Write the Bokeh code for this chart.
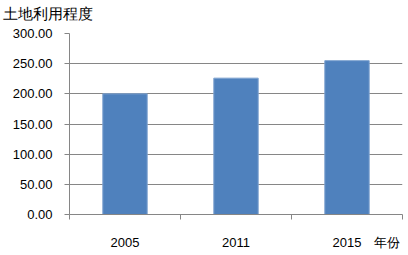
from bokeh.plotting import figure
from bokeh.models import FixedTicker, Range1d, ColumnDataSource, Title
from bokeh.embed import file_html
from bokeh.resources import INLINE

years = ["2005", "2011", "2015"]
values = [200.0, 226.0, 255.0]
y_ticks = [0, 50, 100, 150, 200, 250, 300]
y_title = "土地利用程度"
x_title = "年份"

xs = [i + 0.5 for i in range(len(years))]
src = ColumnDataSource(dict(x=xs, top=values))

FONT = "Liberation Sans"
GRAY = "#868686"

p = figure(width=408, height=255, output_backend="svg", toolbar_location=None,
           x_range=Range1d(0, len(years)), y_range=Range1d(0, 300),
           min_border_left=69, min_border_right=6, min_border_top=33, min_border_bottom=41)
p.outline_line_color = None
p.background_fill_color = "white"
p.border_fill_color = "white"

p.vbar(x="x", top="top", width=0.4, source=src, fill_color="#4F81BD",
       line_color="#7FA3D0", line_width=1)

# spacer between title and frame
p.add_layout(Title(text=" ", text_font_size="8px", standoff=0), "above")

# title (y-axis title at top-left)
p.title.text = y_title
p.title.text_font = FONT
p.title.text_font_size = "15px"
p.title.text_font_style = "normal"
p.title.text_color = "#000000"
p.title.align = "left"
p.title.offset = -67
p.title.standoff = 2

# x axis: labels at centers, plus x title as extra label
lab_pos = xs + [2.86]
overrides = {x: y for x, y in zip(xs, years)}
overrides[2.86] = x_title
p.xaxis.ticker = FixedTicker(ticks=lab_pos, minor_ticks=list(range(len(years) + 1)))
p.xaxis.major_label_overrides = overrides
p.xaxis.major_tick_line_color = None
p.xaxis.major_tick_out = 0
p.xaxis.major_tick_in = 0
p.xaxis.minor_tick_line_color = GRAY
p.xaxis.minor_tick_out = 5
p.xaxis.minor_tick_in = 0
p.xaxis.axis_line_color = GRAY
p.xaxis.major_label_standoff = 15
p.xaxis.major_label_text_font = FONT
p.xaxis.major_label_text_font_size = "13px"
p.xaxis.major_label_text_color = "#000000"

# y axis
p.yaxis.ticker = FixedTicker(ticks=y_ticks)
p.yaxis.major_label_overrides = {t: f"{t:.2f}" for t in y_ticks}
p.yaxis.axis_line_color = GRAY
p.yaxis.major_tick_line_color = GRAY
p.yaxis.major_tick_out = 5
p.yaxis.major_tick_in = 0
p.yaxis.minor_tick_line_color = None
p.yaxis.major_label_standoff = 12
p.yaxis.major_label_text_font = FONT
p.yaxis.major_label_text_font_size = "13px"
p.yaxis.major_label_text_color = "#000000"

p.xgrid.grid_line_color = None
p.ygrid.grid_line_color = GRAY
p.ygrid.grid_line_width = 1

open("out.html", "w").write(file_html(p, INLINE))
